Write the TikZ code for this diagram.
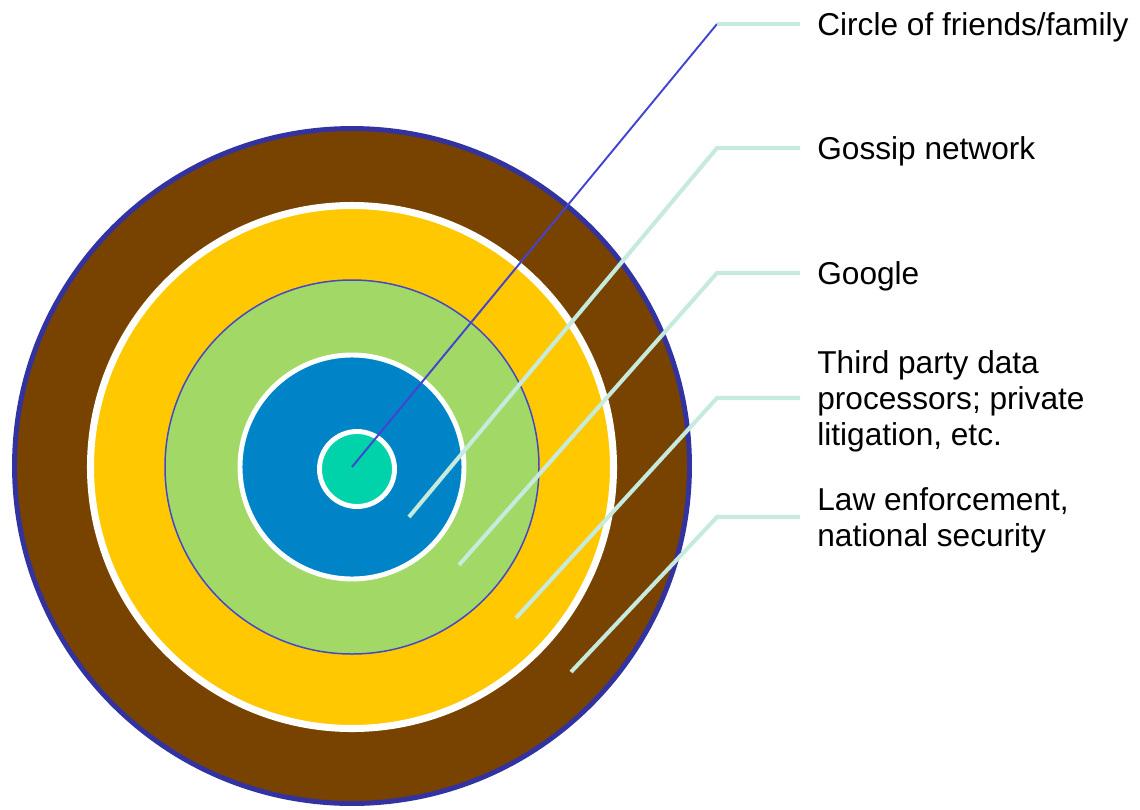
\documentclass[tikz,border=0pt]{standalone}
\usepackage{fontspec}
\setmainfont{Liberation Sans}
\usetikzlibrary{positioning}
\definecolor{mBrown}{HTML}{784200}
\definecolor{mNavy}{HTML}{3232A0}
\definecolor{mYellow}{HTML}{FFC800}
\definecolor{mGreen}{HTML}{A2D866}
\definecolor{mBlue}{HTML}{0084C8}
\definecolor{mTeal}{HTML}{00D2AA}
\definecolor{mRim}{HTML}{4646C8}
\definecolor{mLeader}{HTML}{C6EADC}
\definecolor{mLine}{HTML}{4444D0}

\begin{document}
\begin{tikzpicture}[x=0.02cm, y=-0.02cm,
    leader/.style={mLeader, line width=2.3pt},
    pointer/.style={mLine, line width=1.1pt},
    tag/.style={anchor=west, inner xsep=0.34cm, inner ysep=0pt, align=left,
      yshift=-0.06cm, font=\fontsize{18}{20.5}\selectfont}]
    \useasboundingbox (0,0) rectangle (1140,809);
    % rings, outside in
    \draw[mNavy, fill=mBrown, line width=2.8pt] (352,466) circle [radius=337.5];
    \draw[white, fill=mYellow, line width=4pt] (352,467) circle [radius=261.5];
    \draw[mRim, fill=mGreen, line width=0.85pt] (352,467) circle [radius=187];
    \draw[white, fill=mBlue, line width=2.8pt] (352,467) circle [radius=112];
    \draw[white, fill=mTeal, line width=2.8pt] (357,469) circle [radius=37.5];
    % label ends of the leaders
    \coordinate (fe) at (800,24);
    \coordinate (ge) at (800,148);
    \coordinate (oe) at (800,273);
    \coordinate (te) at (800,398);
    \coordinate (le) at (800,517);
    % labels
    \node[tag] (friends) at (fe) {Circle of friends/family};
    \node[tag] (gossip) at (ge) {Gossip network};
    \node[tag] (google) at (oe) {Google};
    \node[tag] (third) at (te) {Third party data\\processors; private\\litigation, etc.};
    \node[tag] (law) at (le) {Law enforcement,\\national security};
    % leader lines
    \coordinate (f0) at (352,467);  \coordinate (fk) at (717,24);
    \coordinate (g0) at (409,517);  \coordinate (gk) at (717,148);
    \coordinate (o0) at (459,565);  \coordinate (ok) at (717,273);
    \coordinate (t0) at (516,618);  \coordinate (tk) at (717,398);
    \coordinate (l0) at (571,672);  \coordinate (lk) at (717,517);
    \draw[pointer] (f0) -- (fk);
    \draw[leader] (fk) -- (fe);
    \draw[leader] (g0) -- (gk) -- (ge);
    \draw[leader] (o0) -- (ok) -- (oe);
    \draw[leader] (t0) -- (tk) -- (te);
    \draw[leader] (l0) -- (lk) -- (le);
\end{tikzpicture}
\end{document}
